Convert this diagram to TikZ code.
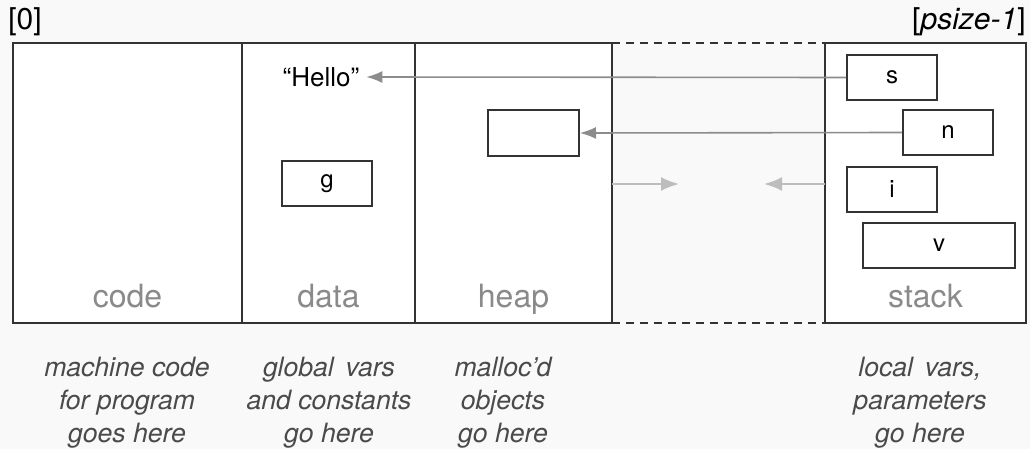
\documentclass[tikz,border=0pt]{standalone}
\usepackage{fontspec}
\setmainfont{TeX Gyre Heros}
\usetikzlibrary{arrows.meta}
\definecolor{paper}{HTML}{F9F9F9}
\definecolor{frame}{HTML}{333333}
\definecolor{ptr}{HTML}{8C8C8C}
\definecolor{grow}{HTML}{BDBDBD}
\definecolor{seglabel}{HTML}{8A8A8A}
\definecolor{note}{HTML}{4A4A4A}
\begin{document}
\begin{tikzpicture}[x=0.5pt,y=-0.5pt,
    segment/.style={draw=frame,line width=1pt,fill=white},
    var/.style={draw=frame,line width=1pt,fill=white,inner sep=0pt,minimum height=22.5pt,font=\fontsize{12}{14}\selectfont},
    segname/.style={anchor=base,text=seglabel,font=\fontsize{16}{18}\selectfont},
    remark/.style={anchor=north,align=center,text=note,font=\fontsize{13.3}{16.5}\selectfont\itshape},
    pointer/.style={draw=ptr,line width=0.8pt,-{Latex[length=8pt,width=6pt]}},
    growth/.style={draw=grow,line width=1pt,-{Latex[length=9pt,width=7pt]}}]
    \fill[paper] (0,0) rectangle (1030,449);
    \useasboundingbox (0,0) rectangle (1030,449);
    %%%%%%%% segments
    \draw[segment] (13,43) rectangle (242,323);
    \draw[segment] (242,43) rectangle (415,323);
    \draw[segment] (415,43) rectangle (612,323);
    \draw[segment] (825,43) rectangle (1026,323);
    \draw[frame,line width=1pt,dash pattern=on 4pt off 3pt] (612,43)--(825,43) (612,323)--(825,323);
    \foreach \nm/\x in {code/127.5,data/328.5,heap/513.5,stack/925.5}
        \node[segname] (lbl-\nm) at (\x,307) {\nm};
    %%%%%%%% indices
    \node[anchor=base west,inner sep=0pt,font=\fontsize{15}{17}\selectfont] (first) at (8,30) {[0]};
    \node[anchor=base east,inner sep=0pt,font=\fontsize{15}{17}\selectfont] (last) at (1026,30) {[\textit{psize-1}]};
    %%%%%%%% variables
    \node[font=\fontsize{13}{15}\selectfont] (hello) at (321,77) {“Hello”};
    \node[var,minimum width=45pt] (g) at (327,184) {g};
    \node[var,minimum width=45.5pt,minimum height=23pt] (obj) at (533.5,133) {};
    \node[var,minimum width=45pt] (s) at (892,77.5) {s};
    \node[var,minimum width=45pt] (n) at (948,132.5) {n};
    \node[var,minimum width=45pt] (i) at (892,189.5) {i};
    \node[var,minimum width=76pt] (v) at (939,245.5) {v};
    %%%%%%%% pointers
    \draw[pointer] (s.west)--(hello.east);
    \draw[pointer] (n.west)--(obj.east);
    \coordinate (heaptop) at (612,184);
    \coordinate (heapend) at (679,184);
    \coordinate (stacktop) at (825,184);
    \coordinate (stackend) at (764,184);
    \draw[growth] (heaptop)--(heapend);
    \draw[growth] (stacktop)--(stackend);
    %%%%%%%% notes
    \node[remark] (note-code) at (127,350) {machine code\\for program\\goes here};
    \node[remark] (note-data) at (329,350) {global\, vars\\and constants\\go here};
    \node[remark] (note-heap) at (503,350) {malloc'd\\objects\\go here};
    \node[remark] (note-stack) at (920,350) {local\, vars,\\parameters\\go here};
\end{tikzpicture}
\end{document}
